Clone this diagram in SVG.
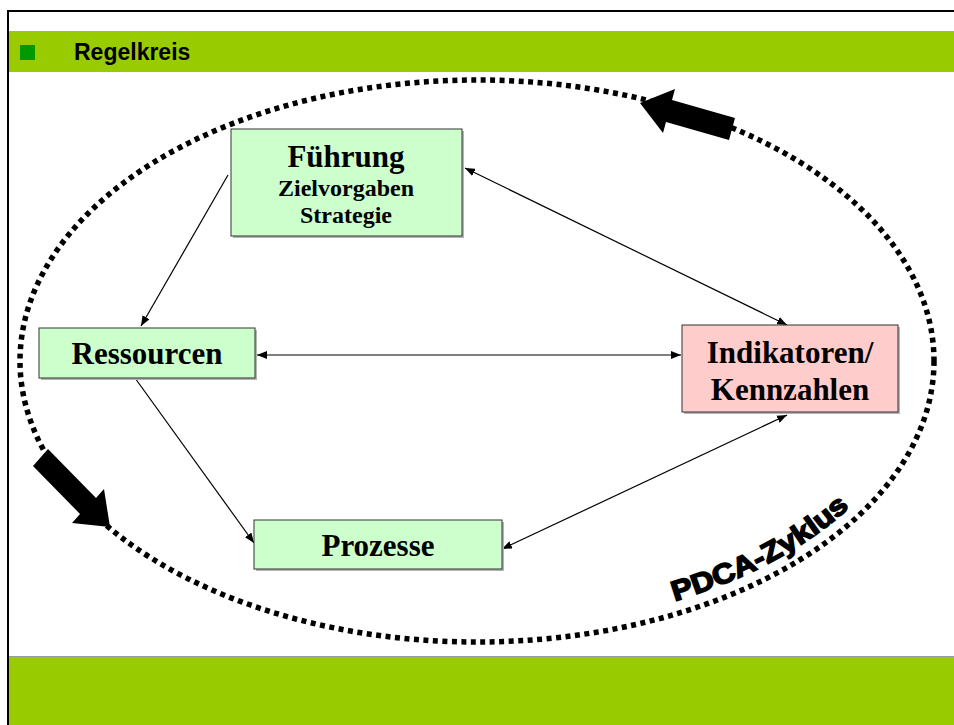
<svg xmlns="http://www.w3.org/2000/svg" width="954" height="725" viewBox="0 0 954 725">
<style>
.box{stroke:#333;stroke-width:1}
.shadow{fill:#b4b4b4}
.g{fill:#ccffcc}
.r{fill:#ffcccc}
.t{font-family:"Liberation Serif","Times New Roman",serif;font-weight:bold;fill:#000;text-anchor:middle}
.conn{stroke:#000;stroke-width:1.2;fill:none}
</style>
<defs>
<marker id="ah" viewBox="0 0 10 8" refX="10" refY="4" markerWidth="10" markerHeight="8" markerUnits="userSpaceOnUse" orient="auto-start-reverse">
<path d="M0,0 L10,4 L0,8 Z" fill="#000"/>
</marker>
<path id="arcp" d="M 614.5 615.9 A 445 268 0 0 0 906.8 430.4"/>
</defs>
<rect width="954" height="725" fill="#fff"/>
<!-- frame -->
<g id="frame">
<rect x="9" y="31" width="945" height="41" fill="#99cc00"/>
<rect x="9" y="656" width="945" height="2" fill="#9a9a9a"/>
<rect x="9" y="657" width="945" height="68" fill="#99cc00"/>
<line x1="7" y1="11" x2="954" y2="11" stroke="#000" stroke-width="2"/>
<line x1="8" y1="10" x2="8" y2="725" stroke="#000" stroke-width="2"/>
<rect x="20" y="45" width="15" height="15" fill="#009900"/>
<text x="74" y="60" font-family="Liberation Sans, Arial, sans-serif" font-weight="bold" font-size="23" fill="#000">Regelkreis</text>
</g>
<!-- cycle -->
<g id="cycle">
<ellipse cx="477" cy="361" rx="457" ry="281" fill="none" stroke="#000" stroke-width="5.5" stroke-dasharray="5 4.5"/>
<polygon points="640,103 675,89 672,100 735,118 729,140 666,122 663,133"/>
<polygon points="110,527 104,489 96,498 48,449 33,466 80,514 72,523"/>
<text font-family="Liberation Sans, Arial, sans-serif" font-weight="bold" font-size="28" fill="#000" stroke="#000" stroke-width="1.6"><textPath href="#arcp" startOffset="62" textLength="200" lengthAdjust="spacingAndGlyphs">PDCA-Zyklus</textPath></text>
</g>
<!-- connectors -->
<g id="connectors">
<line class="conn" x1="228" y1="175" x2="141" y2="326" marker-end="url(#ah)"/>
<line class="conn" x1="257" y1="355" x2="681" y2="355" marker-start="url(#ah)" marker-end="url(#ah)"/>
<line class="conn" x1="465" y1="168" x2="787" y2="325" marker-start="url(#ah)" marker-end="url(#ah)"/>
<line class="conn" x1="135" y1="378" x2="254" y2="543" marker-end="url(#ah)"/>
<line class="conn" x1="502" y1="549" x2="787" y2="415" marker-start="url(#ah)" marker-end="url(#ah)"/>
</g>
<!-- nodes -->
<g id="fuehrung">
<rect class="shadow" x="233" y="131" width="231" height="107"/>
<rect class="box g" x="231" y="129" width="231" height="107"/>
<text class="t" x="346" y="167" font-size="31">Führung</text>
<text class="t" x="346" y="196" font-size="24">Zielvorgaben</text>
<text class="t" x="346" y="223" font-size="24">Strategie</text>
</g>
<g id="ressourcen">
<rect class="shadow" x="41" y="330" width="216" height="50"/>
<rect class="box g" x="39" y="328" width="216" height="50"/>
<text class="t" x="147" y="364" font-size="31">Ressourcen</text>
</g>
<g id="prozesse">
<rect class="shadow" x="256" y="522" width="248" height="49"/>
<rect class="box g" x="254" y="520" width="248" height="49"/>
<text class="t" x="378" y="556" font-size="31">Prozesse</text>
</g>
<g id="indikatoren">
<rect class="shadow" x="684" y="327" width="216" height="87"/>
<rect class="box r" x="682" y="325" width="216" height="87"/>
<text class="t" x="790" y="363" font-size="31">Indikatoren/</text>
<text class="t" x="790" y="400" font-size="31">Kennzahlen</text>
</g>
</svg>
